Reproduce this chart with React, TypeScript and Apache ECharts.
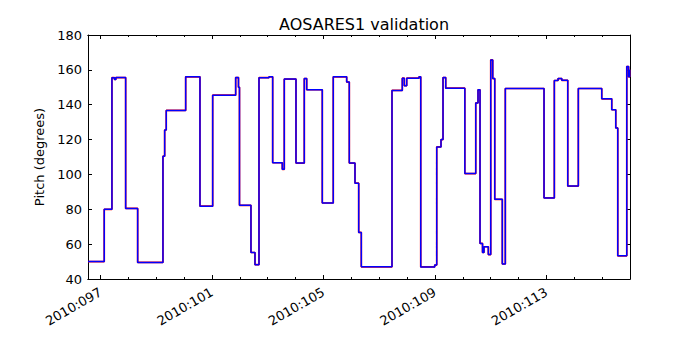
import React, { useEffect, useRef } from 'react';
import * as echarts from 'echarts';

// Day-of-year (2010) at which each pitch level starts
const days = [
  96.55, 97.133, 97.409, 97.5, 97.55, 97.901, 98.332, 99.24, 99.301, 99.358,
  100.055, 100.568, 101.024, 101.849, 101.95, 101.986, 102.398, 102.542, 102.686, 103.045,
  103.177, 103.522, 103.594, 104.014, 104.312, 104.398, 104.958, 105.352, 105.833, 105.927,
  106.131, 106.264, 106.358, 107.459, 107.829, 107.901, 107.987, 108.429, 108.49, 108.992,
  109.064, 109.218, 109.29, 109.387, 110.073, 110.464, 110.546, 110.618, 110.708, 110.76,
  110.916, 111.002, 111.074, 111.146, 111.418, 111.526, 112.915, 113.285, 113.418, 113.551,
  113.766, 114.146, 114.986, 115.345, 115.489, 115.56, 115.884, 115.95, 115.99,
];
const pitch = [
  50, 80, 155.5, 154.5, 155.6, 80.5, 49.5, 110.5, 125.5, 136.7,
  156, 81.8, 145.5, 155.6, 150, 82.3, 55.2, 48.2, 155.5, 156,
  106.7, 102.9, 154.7, 106.5, 155, 148.6, 83.6, 156, 153, 106.5,
  95, 66.7, 47, 148.2, 155.2, 150.9, 155.2, 156, 46.9, 48,
  115.8, 120, 155.6, 149.5, 100.5, 141, 148.6, 60.4, 55.2, 58.5,
  54, 165.7, 155, 85.7, 48.6, 149.3, 86.5, 153.9, 155, 154,
  93.3, 149.3, 143.4, 137.1, 126.7, 53.3, 161.9, 156, 160,
];
const majorTicks = [97, 101, 105, 109, 113];
const minorTicks = [97, 98, 99, 100, 101, 102, 103, 104, 105, 106, 107, 108, 109, 110, 111, 112, 113, 114, 115];
const xMin = 96.55;
const xMax = 116.0;
const yMin = 40;
const yMax = 180;
const yStep = 20;

const FONT = 'DejaVu Sans';

export default function App() {
  const ref = useRef<HTMLDivElement>(null);
  useEffect(() => {
    document.body.style.margin = '0';
    const chart = echarts.init(ref.current!, null, { renderer: 'svg' });
    const data = days.map((d, i) => [d, pitch[i]]);
    const axisLine = { show: true, onZero: false, lineStyle: { color: '#000', width: 1 } };
    const mkX = (position: string, len: number, ticks: number[], labels: boolean) => ({
      type: 'value',
      position,
      min: xMin,
      max: xMax,
      splitLine: { show: false },
      axisLine,
      axisTick: { show: true, inside: true, length: len, customValues: ticks, lineStyle: { color: '#000', width: 1 } },
      axisLabel: labels
        ? {
            show: true,
            customValues: majorTicks,
            rotate: 30,
            margin: 12,
            color: '#000',
            fontFamily: FONT,
            fontSize: 13,
            formatter: (v: number) => '2010:' + String(Math.round(v)).padStart(3, '0'),
          }
        : { show: false },
    });
    const mkY = (position: string, labels: boolean) => ({
      type: 'value',
      position,
      min: yMin,
      max: yMax,
      interval: yStep,
      splitLine: { show: false },
      axisLine,
      axisTick: { show: true, inside: true, length: 4, lineStyle: { color: '#000', width: 1 } },
      axisLabel: labels
        ? { show: true, color: '#000', fontFamily: FONT, fontSize: 13, margin: 6 }
        : { show: false },
      ...(labels
        ? {
            name: 'Pitch (degrees)',
            nameLocation: 'middle',
            nameGap: 38,
            nameTextStyle: { color: '#000', fontFamily: FONT, fontSize: 13 },
          }
        : {}),
    });
    chart.setOption({
      animation: false,
      backgroundColor: '#fff',
      title: {
        text: 'AOSARES1 validation',
        left: 359,
        top: 11,
        textAlign: 'center',
        textStyle: { color: '#000', fontFamily: FONT, fontSize: 16, fontWeight: 'normal' },
      },
      grid: { left: 88, right: 70, top: 35, bottom: 71, containLabel: false },
      xAxis: [
        mkX('bottom', 4, majorTicks, true),
        mkX('bottom', 2, minorTicks, false),
        mkX('top', 4, majorTicks, false),
        mkX('top', 2, minorTicks, false),
      ],
      yAxis: [mkY('left', true), mkY('right', false)],
      series: [
        {
          type: 'line',
          step: 'end',
          data,
          xAxisIndex: 0,
          yAxisIndex: 0,
          symbol: 'none',
          lineStyle: { color: '#ff0000', width: 1.7 },
          z: 2,
        },
        {
          type: 'line',
          step: 'end',
          data,
          xAxisIndex: 0,
          yAxisIndex: 0,
          symbol: 'none',
          lineStyle: { color: '#0000ff', width: 1.5 },
          z: 3,
        },
      ],
    });
    return () => chart.dispose();
  }, []);
  return <div ref={ref} style={{ width: 700, height: 350 }} />;
}
